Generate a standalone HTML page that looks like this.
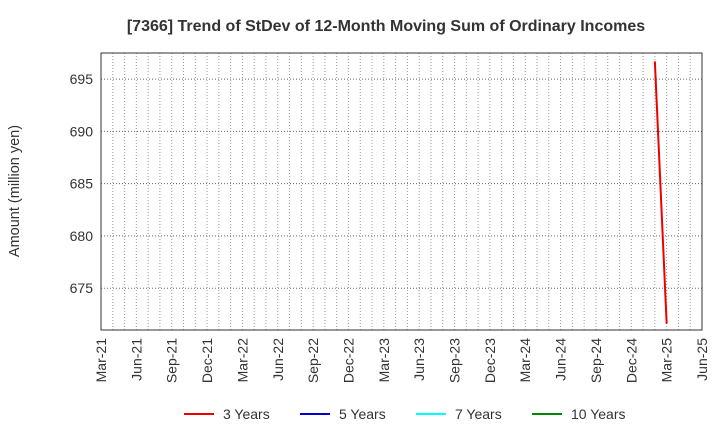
<!DOCTYPE html>
<html><head><meta charset="utf-8"><style>
body{margin:0;background:#fff;font-family:"Liberation Sans",sans-serif}
</style></head><body>
<svg width="720" height="440" xmlns="http://www.w3.org/2000/svg" font-family="Liberation Sans, sans-serif">
<text x="386" y="31" text-anchor="middle" font-size="16" font-weight="bold" fill="#333">[7366]  Trend of StDev of 12-Month Moving Sum of Ordinary Incomes</text>
<text transform="translate(19,191) rotate(-90)" text-anchor="middle" font-size="14.5" fill="#333">Amount (million yen)</text>
<g id="grid"></g><g id="axes"></g><g id="series"></g>
<g font-size="14" fill="#333">
<line x1="184" y1="414" x2="214" y2="414" stroke="#e00" stroke-width="2"/><text x="223" y="419">3 Years</text>
<line x1="300" y1="414" x2="330" y2="414" stroke="#00c" stroke-width="2"/><text x="339" y="419">5 Years</text>
<line x1="416" y1="414" x2="446" y2="414" stroke="#0ff" stroke-width="2"/><text x="455" y="419">7 Years</text>
<line x1="532" y1="414" x2="562" y2="414" stroke="#080" stroke-width="2"/><text x="571" y="419">10 Years</text>
</g>
</svg>
<script>
const xTickLabels=["Mar-21","Jun-21","Sep-21","Dec-21","Mar-22","Jun-22","Sep-22","Dec-22","Mar-23","Jun-23","Sep-23","Dec-23","Mar-24","Jun-24","Sep-24","Dec-24","Mar-25","Jun-25"];
const yTicks=[675,680,685,690,695];
const months3=[47,48]; // months since Mar-21
const values3=[696.7,671.6];
const L=101,R=702,T=53,B=330,xMax=51,yMin=671.0,yMax=697.5;
const X=m=>L+(R-L)*m/xMax, Y=v=>B-(B-T)*(v-yMin)/(yMax-yMin);
const ns="http://www.w3.org/2000/svg";
function mk(p,t,a){const e=document.createElementNS(ns,t);for(const k in a)e.setAttribute(k,a[k]);p.appendChild(e);return e;}
const g=document.getElementById('grid'),ax=document.getElementById('axes'),s=document.getElementById('series');
for(let m=1;m<xMax;m++){const l=mk(g,'line',{x1:X(m),x2:X(m),y1:T,y2:B,stroke:'#999','stroke-width':1,'stroke-dasharray':'1,2'});

}
yTicks.forEach(v=>{const l=mk(g,'line',{x1:L,x2:R,y1:Y(v),y2:Y(v),stroke:'#666','stroke-width':1,'stroke-dasharray':'1,2'});


const t=mk(ax,'text',{x:L-8,y:Y(v)+5,'text-anchor':'end','font-size':14,fill:'#333'});t.textContent=v;

});
xTickLabels.forEach((lab,i)=>{const x=X(i*3);const t=mk(ax,'text',{transform:`translate(${x+5},338) rotate(-90)`,'text-anchor':'end','font-size':14,fill:'#333'});t.textContent=lab;

});
const f=mk(ax,'rect',{x:L,y:T,width:R-L,height:B-T,fill:'none',stroke:'#333','stroke-width':1});


const p=mk(s,'polyline',{points:months3.map((m,i)=>X(m)+','+Y(values3[i])).join(' '),fill:'none',stroke:'#e00','stroke-width':2});


</script>
</body></html>
